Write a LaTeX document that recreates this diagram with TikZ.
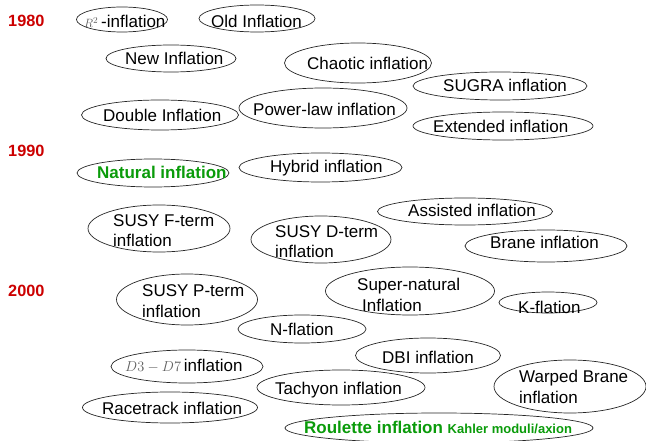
\documentclass[tikz,border=0pt]{standalone}
\usepackage{fontspec}
\setmainfont{Liberation Sans}
\usetikzlibrary{shapes.geometric}
\definecolor{yearred}{RGB}{204,0,0}
\definecolor{natgreen}{RGB}{10,155,10}
\definecolor{mathgray}{RGB}{95,95,95}
\begin{document}
\begin{tikzpicture}[x=1pt,y=-1pt,
  ell/.style={draw=black!85, line width=0.7pt, ellipse, inner sep=0pt},
  lbl/.style={anchor=base west, inner sep=0pt, font=\fontsize{17}{20.5}\selectfont, align=left},
  grn/.style={lbl, text=natgreen, font=\fontsize{17}{20.5}\selectfont\bfseries},
  yearlbl/.style={anchor=base west, inner sep=0pt, font=\fontsize{16.3}{18}\selectfont\bfseries, text=yearred}]
\useasboundingbox (0,0) rectangle (646,441);
% years
\node[yearlbl] (y80) at (8,27) {1980};
\node[yearlbl] (y90) at (8,157) {1990};
\node[yearlbl] (y00) at (8,296) {2000};
% ellipses
\node[ell, minimum width=91pt,  minimum height=25pt] (eR)   at (122,19.5) {};
\node[ell, minimum width=116pt, minimum height=27pt] (eOld) at (257,18.5) {};
\node[ell, minimum width=130pt, minimum height=27pt] (eNew) at (171,58.5) {};
\node[ell, minimum width=147pt, minimum height=40pt] (eCha) at (358,63) {};
\node[ell, minimum width=174pt, minimum height=28pt] (eSug) at (500,86) {};
\node[ell, minimum width=168pt, minimum height=40pt] (ePow) at (323,108) {};
\node[ell, minimum width=180pt, minimum height=28pt] (eExt) at (503,126) {};
\node[ell, minimum width=157pt, minimum height=30pt] (eDou) at (160,115) {};
\node[ell, minimum width=152pt, minimum height=28pt] (eNat) at (153,173) {};
\node[ell, minimum width=163pt, minimum height=29pt] (eHyb) at (320.5,167.5) {};
\node[ell, minimum width=142pt, minimum height=47pt] (eF)   at (159,228.5) {};
\node[ell, minimum width=140pt, minimum height=47pt] (eD)   at (321,239.5) {};
\node[ell, minimum width=175pt, minimum height=27pt] (eAss) at (465,211.5) {};
\node[ell, minimum width=162pt, minimum height=32pt] (eBra) at (546,246) {};
\node[ell, minimum width=141pt, minimum height=51pt] (eP)   at (187,299.5) {};
\node[ell, minimum width=169pt, minimum height=48pt] (eSup) at (410,291) {};
\node[ell, minimum width=98pt,  minimum height=21pt] (eK)   at (548,302.5) {};
\node[ell, minimum width=128pt, minimum height=28pt] (eN)   at (302,329) {};
\node[ell, minimum width=152pt, minimum height=33pt] (eDs)  at (187,366.5) {};
\node[ell, minimum width=145pt, minimum height=35pt] (eDBI) at (428,355.5) {};
\node[ell, minimum width=168pt, minimum height=35pt] (eTac) at (341,387.5) {};
\node[ell, minimum width=152pt, minimum height=53pt] (eWar) at (570,386.5) {};
\node[ell, minimum width=175pt, minimum height=31pt] (eRac) at (170,407.5) {};
\node[ell, minimum width=308pt, minimum height=30pt] (eRou) at (439,428) {};
% labels
\node[lbl] (tR)   at (84,27.5) {{\color{mathgray}\fontsize{12.5}{14}\selectfont$R^2$}\,-inflation};
\node[lbl] (tOld) at (211,28) {Old Inflation};
\node[lbl] (tNew) at (125,65) {New Inflation};
\node[lbl] (tCha) at (307,70) {Chaotic inflation};
\node[lbl] (tSug) at (443,92) {SUGRA inflation};
\node[lbl] (tPow) at (253,116) {Power-law inflation};
\node[lbl] (tExt) at (433,133) {Extended inflation};
\node[lbl] (tDou) at (103,122) {Double Inflation};
\node[grn] (tNat) at (97,179) {Natural inflation};
\node[lbl] (tHyb) at (270,173) {Hybrid inflation};
\node[lbl] (tF)   at (113,247) {SUSY F-term\\inflation};
\node[lbl] (tD)   at (275,258) {SUSY D-term\\inflation};
\node[lbl] (tAss) at (408,217) {Assisted inflation};
\node[lbl] (tBra) at (490,249) {Brane inflation};
\node[lbl] (tP)   at (142,317) {SUSY P-term\\inflation};
\node[lbl] (tSup) at (357,311) {Super-natural\\\hspace*{5pt}Inflation};
\node[lbl] (tK)   at (518,313) {K-flation};
\node[lbl] (tN)   at (270,335) {N-flation};
\node[lbl] (tDs)  at (125,371) {{\color{mathgray}\fontsize{14.5}{16}\selectfont$D3-D7$}\,inflation};
\node[lbl] (tDBI) at (382,363) {DBI inflation};
\node[lbl] (tTac) at (275,394) {Tachyon inflation};
\node[lbl] (tWar) at (519,403) {Warped Brane\\inflation};
\node[lbl] (tRac) at (102,414) {Racetrack inflation};
\node[grn] (tRou) at (304,433) {Roulette inflation {\fontsize{13}{15}\selectfont Kahler moduli/axion}};
\end{tikzpicture}
\end{document}
